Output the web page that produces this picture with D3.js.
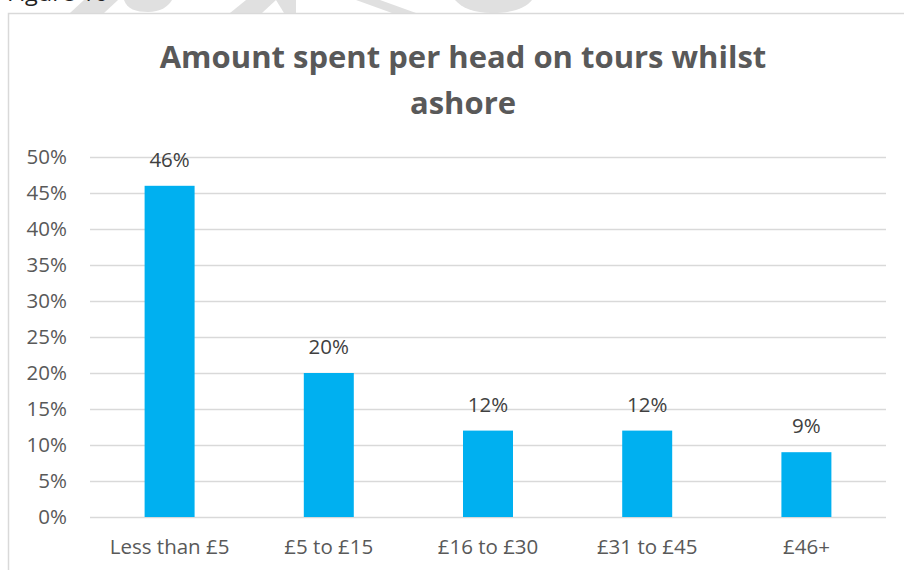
<!DOCTYPE html>
<html>
<head>
<meta charset="utf-8">
<script src="https://cdn.jsdelivr.net/npm/d3@7"></script>
<style>
  html, body { margin: 0; padding: 0; background: #ffffff; }
  svg { display: block; }
  text { font-family: "Open Sans", sans-serif; }
</style>
</head>
<body>
<script>
// ---- data ----
const categories = ["Less than £5", "£5 to £15", "£16 to £30", "£31 to £45", "£46+"];
const values = [46, 20, 12, 12, 9];
const yTicks = [0, 5, 10, 15, 20, 25, 30, 35, 40, 45, 50];
const titleLines = ["Amount spent per head on tours whilst", "ashore"];
const figureLabel = "Figure 10";

const W = 904, H = 570;
const FONT = "'Open Sans', sans-serif";
const svg = d3.select("body").append("svg").attr("width", W).attr("height", H);

// watermark fragments (faint grey) above the chart frame
const wm = svg.append("g").attr("fill", "#e0e0e0");
const wmShapes = [
  "M70,13 L84,0 L118,0 L104,13 Z",
  "M124,0 C127,9 136,12 148,12 C160,12 168,7 172,0 Z",
  "M230,13 L246,0 L276,0 L262,13 Z",
  "M276,0 L296,0 L296,13 L284,13 Z",
  "M356,0 L380,0 L416,13 L392,13 Z",
  "M455,0 L532,0 C526,8 512,13 492,13 C474,13 462,8 455,0 Z"
];
wm.selectAll("path").data(wmShapes).join("path").attr("d", d => d);

svg.append("text")
  .attr("x", 7).attr("y", 1)
  .attr("font-size", 21).attr("fill", "#222")
  .attr("textLength", 101).attr("lengthAdjust", "spacingAndGlyphs")
  .text(figureLabel);

// chart frame
svg.append("rect")
  .attr("x", 8.5).attr("y", 13.5)
  .attr("width", W + 10).attr("height", H + 10)
  .attr("fill", "#fff").attr("stroke", "#d9d9d9").attr("stroke-width", 1.5);

// title
const title = svg.append("text")
  .attr("text-anchor", "middle")
  .attr("font-size", 31).attr("font-weight", "bold").attr("fill", "#595959");
titleLines.forEach((t, i) => {
  title.append("tspan").attr("x", 463).attr("y", 68 + i * 46).text(t);
});

// scales
const x = d3.scaleBand().domain(categories).range([90, 886]).paddingInner(0.686).paddingOuter(0.343);
const y = d3.scaleLinear().domain([0, 50]).range([517, 157]);

// gridlines
const grid = svg.append("g")
  .attr("transform", "translate(90,0)")
  .call(d3.axisLeft(y).tickValues(yTicks).tickSize(-796).tickFormat(""));
grid.select(".domain").remove();
grid.selectAll("line").attr("stroke", "#d9d9d9").attr("stroke-width", 1.5);

// y axis labels
const yAxis = svg.append("g")
  .attr("transform", "translate(90,0)")
  .call(d3.axisLeft(y).tickValues(yTicks).tickSize(0).tickPadding(23).tickFormat(d => d + "%"));
yAxis.select(".domain").remove();
yAxis.selectAll("text").attr("font-size", 20.5).attr("fill", "#595959").attr("font-family", FONT);

// bars
svg.append("g").selectAll("rect").data(values).join("rect")
  .attr("x", (d, i) => x(categories[i]))
  .attr("y", d => y(d))
  .attr("width", x.bandwidth())
  .attr("height", d => y(0) - y(d))
  .attr("fill", "#00b0f0");

// value labels
svg.append("g").selectAll("text").data(values).join("text")
  .attr("x", (d, i) => x(categories[i]) + x.bandwidth() / 2)
  .attr("y", d => y(d) - 19)
  .attr("text-anchor", "middle")
  .attr("font-size", 20.5).attr("fill", "#404040")
  .text(d => d + "%");

// x axis labels
const xAxis = svg.append("g")
  .attr("transform", "translate(0,517)")
  .call(d3.axisBottom(x).tickSize(0).tickPadding(22));
xAxis.select(".domain").remove();
xAxis.selectAll("text").attr("font-size", 20.5).attr("fill", "#595959").attr("font-family", FONT);
</script>
</body>
</html>
